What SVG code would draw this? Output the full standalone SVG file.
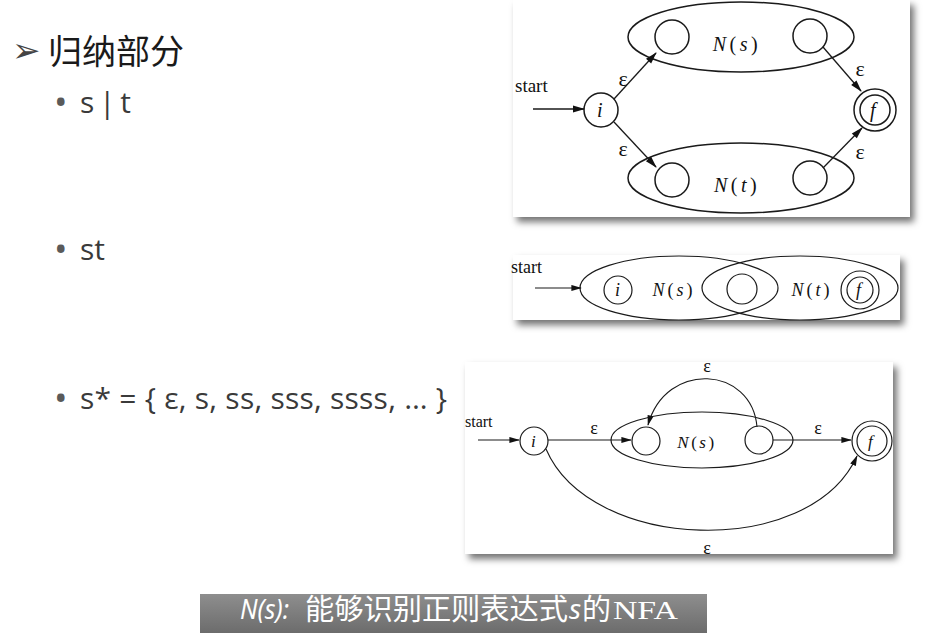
<svg xmlns="http://www.w3.org/2000/svg" width="926" height="639" viewBox="0 0 926 639">
<defs>
<filter id="shadow" x="-10%" y="-10%" width="125%" height="130%">
<feDropShadow dx="4" dy="5" stdDeviation="3.5" flood-color="#000" flood-opacity="0.55"/>
</filter>
<marker id="ah" viewBox="0 0 12 8" refX="11" refY="4" markerWidth="13" markerHeight="8" markerUnits="userSpaceOnUse" orient="auto">
<path d="M0,0.5 L12,4 L0,7.5 z" fill="#111"/>
</marker>
<marker id="ahs" viewBox="0 0 12 8" refX="11" refY="4" markerWidth="11" markerHeight="7" markerUnits="userSpaceOnUse" orient="auto">
<path d="M0,0.5 L12,4 L0,7.5 z" fill="#111"/>
</marker>
<linearGradient id="capg" x1="0" y1="0" x2="0" y2="1">
<stop offset="0" stop-color="#8e8e8e"/>
<stop offset="1" stop-color="#6c6c6c"/>
</linearGradient>
</defs>
<style>
.panel{fill:#fff;filter:url(#shadow)}
.st{fill:none;stroke:#1a1a1a;stroke-width:1.5}
.st2{fill:none;stroke:#1a1a1a;stroke-width:1.2}
.edge{fill:none;stroke:#1a1a1a;stroke-width:1.3;marker-end:url(#ah)}
.edge2{fill:none;stroke:#1a1a1a;stroke-width:1.1;marker-end:url(#ahs)}
.serif{font-family:"Liberation Serif","DejaVu Serif",serif;fill:#111}
.it{font-style:italic}
.body{font-family:"Open Sans","Noto Sans",sans-serif;fill:#3a3a3a}
.bul{font-family:"Open Sans","Noto Sans",sans-serif;fill:#5a5a5a}
.cap{fill:#fff}
</style>
<rect width="926" height="639" fill="#fff"/>

<g id="heading">
<text x="12" y="62" font-family="DejaVu Sans,sans-serif" font-size="34" fill="#444">➢</text>
<text x="48" y="64" font-family="'Noto Sans CJK SC',sans-serif" font-size="34" fill="#1a1a1a">归纳部分</text>
</g>
<g id="bullet-union">
<text x="54" y="115" class="bul" font-size="36">•</text>
<text x="80" y="113" class="body" font-size="30" textLength="51" lengthAdjust="spacing">s | t</text>
</g>
<g id="bullet-concat">
<text x="54" y="262" class="bul" font-size="36">•</text>
<text x="80" y="260" class="body" font-size="30">st</text>
</g>
<g id="bullet-star">
<text x="54" y="411" class="bul" font-size="36">•</text>
<text x="80" y="409" class="body" font-size="30" textLength="367" lengthAdjust="spacing">s* = { ε, s, ss, sss, ssss, … }</text>
</g>

<g id="panel-union">
<rect class="panel" x="513" y="0" width="397" height="217"/>
<text x="515" y="92" class="serif" font-size="19">start</text>
<g id="u-Ns"><ellipse class="st" cx="741" cy="37" rx="113" ry="35"/>
<text x="737" y="51" class="serif" font-size="20" text-anchor="middle" letter-spacing="3.5"><tspan class="it">N</tspan>(<tspan class="it">s</tspan>)</text></g>
<g id="u-Nt"><ellipse class="st" cx="741" cy="178" rx="113" ry="35"/>
<text x="737" y="192" class="serif" font-size="20" text-anchor="middle" letter-spacing="3.5"><tspan class="it">N</tspan>(<tspan class="it">t</tspan>)</text></g>
<g id="u-i"><circle class="st" cx="601" cy="110" r="17"/><text x="597" y="117" class="serif it" font-size="20">i</text></g>
<g id="u-s1"><circle class="st" cx="672" cy="37" r="17"/></g>
<g id="u-s2"><circle class="st" cx="810" cy="36" r="17"/></g>
<g id="u-t1"><circle class="st" cx="672" cy="180" r="17"/></g>
<g id="u-t2"><circle class="st" cx="810" cy="178" r="17"/></g>
<g id="u-f"><circle class="st" cx="875" cy="110" r="21"/><circle class="st" cx="875" cy="110" r="15"/><text x="870" y="117" class="serif it" font-size="20">f</text></g>
<g id="u-edges">
<line class="edge" x1="533" y1="109" x2="584" y2="109"/>
<line class="edge" x1="614" y1="99" x2="656" y2="53"/>
<line class="edge" x1="614" y1="122" x2="656" y2="167"/>
<line class="edge" x1="823" y1="47" x2="861" y2="91"/>
<line class="edge" x1="823" y1="168" x2="862" y2="128"/>
<text x="623" y="86" class="serif" font-size="22" text-anchor="middle">ε</text>
<text x="623" y="156" class="serif" font-size="22" text-anchor="middle">ε</text>
<text x="860" y="76" class="serif" font-size="22" text-anchor="middle">ε</text>
<text x="860" y="159" class="serif" font-size="22" text-anchor="middle">ε</text>
</g>
</g>

<g id="panel-concat">
<rect class="panel" x="513" y="255" width="387" height="65"/>
<text x="511" y="273" class="serif" font-size="18">start</text>
<g id="c-Ns"><ellipse class="st2" cx="679" cy="288" rx="99" ry="32"/>
<text x="674" y="296" class="serif" font-size="18" text-anchor="middle" letter-spacing="3"><tspan class="it">N</tspan>(<tspan class="it">s</tspan>)</text></g>
<g id="c-Nt"><ellipse class="st2" cx="800" cy="288" rx="98" ry="32"/>
<text x="812" y="296" class="serif" font-size="18" text-anchor="middle" letter-spacing="3"><tspan class="it">N</tspan>(<tspan class="it">t</tspan>)</text></g>
<g id="c-i"><circle class="st2" cx="618" cy="290" r="14"/><text x="615" y="296" class="serif it" font-size="18">i</text></g>
<g id="c-m"><circle class="st2" cx="742" cy="289" r="15"/></g>
<g id="c-f"><circle class="st2" cx="860" cy="290" r="19"/><circle class="st2" cx="860" cy="290" r="13"/><text x="856" y="296" class="serif it" font-size="18">f</text></g>
<g id="c-edges">
<line class="edge2" x1="535" y1="288" x2="581" y2="288"/>
</g>
</g>

<g id="panel-star">
<rect class="panel" x="465" y="362" width="428" height="192"/>
<text x="465" y="427" class="serif" font-size="16">start</text>
<g id="k-Ns"><ellipse class="st2" cx="702" cy="440" rx="91" ry="28"/>
<text x="697" y="448" class="serif" font-size="17" text-anchor="middle" letter-spacing="2.5"><tspan class="it">N</tspan>(<tspan class="it">s</tspan>)</text></g>
<g id="k-i"><circle class="st2" cx="534" cy="441" r="14"/><text x="531" y="447" class="serif it" font-size="17">i</text></g>
<g id="k-s1"><circle class="st2" cx="646" cy="441" r="14"/></g>
<g id="k-s2"><circle class="st2" cx="759" cy="440" r="14"/></g>
<g id="k-f"><circle class="st2" cx="872" cy="441" r="20"/><circle class="st2" cx="872" cy="441" r="15"/><text x="868" y="447" class="serif it" font-size="17">f</text></g>
<g id="k-edges">
<line class="edge2" x1="478" y1="440" x2="519" y2="440"/>
<line class="edge2" x1="548" y1="440" x2="631" y2="440"/>
<line class="edge2" x1="773" y1="440" x2="851" y2="440"/>
<path class="edge2" d="M757,427 C752,366 666,360 648,425"/>
<path class="edge2" d="M546,449 C590,552 810,560 857,456"/>
<text x="594" y="434" class="serif" font-size="18" text-anchor="middle">ε</text>
<text x="818" y="434" class="serif" font-size="18" text-anchor="middle">ε</text>
<text x="707" y="372" class="serif" font-size="18" text-anchor="middle">ε</text>
<text x="707" y="554" class="serif" font-size="18" text-anchor="middle">ε</text>
</g>
</g>

<g id="caption">
<rect x="200" y="594" width="507" height="39" fill="url(#capg)"/>
<text x="240" y="619" class="cap" font-family="'Noto Sans',sans-serif" font-size="28" font-style="italic" textLength="49" lengthAdjust="spacingAndGlyphs">N(s):</text>
<text x="305" y="620" class="cap" font-family="'Noto Sans CJK SC',sans-serif" font-size="29" textLength="263" lengthAdjust="spacingAndGlyphs">能够识别正则表达式</text>
<text x="569" y="619" class="cap" font-family="'Noto Sans',sans-serif" font-size="28" font-style="italic">s</text>
<text x="582" y="620" class="cap" font-family="'Noto Sans CJK SC',sans-serif" font-size="29">的</text>
<text x="613" y="619" class="cap" font-family="'Liberation Serif',serif" font-size="26" textLength="65" lengthAdjust="spacingAndGlyphs">NFA</text>
</g>
</svg>
